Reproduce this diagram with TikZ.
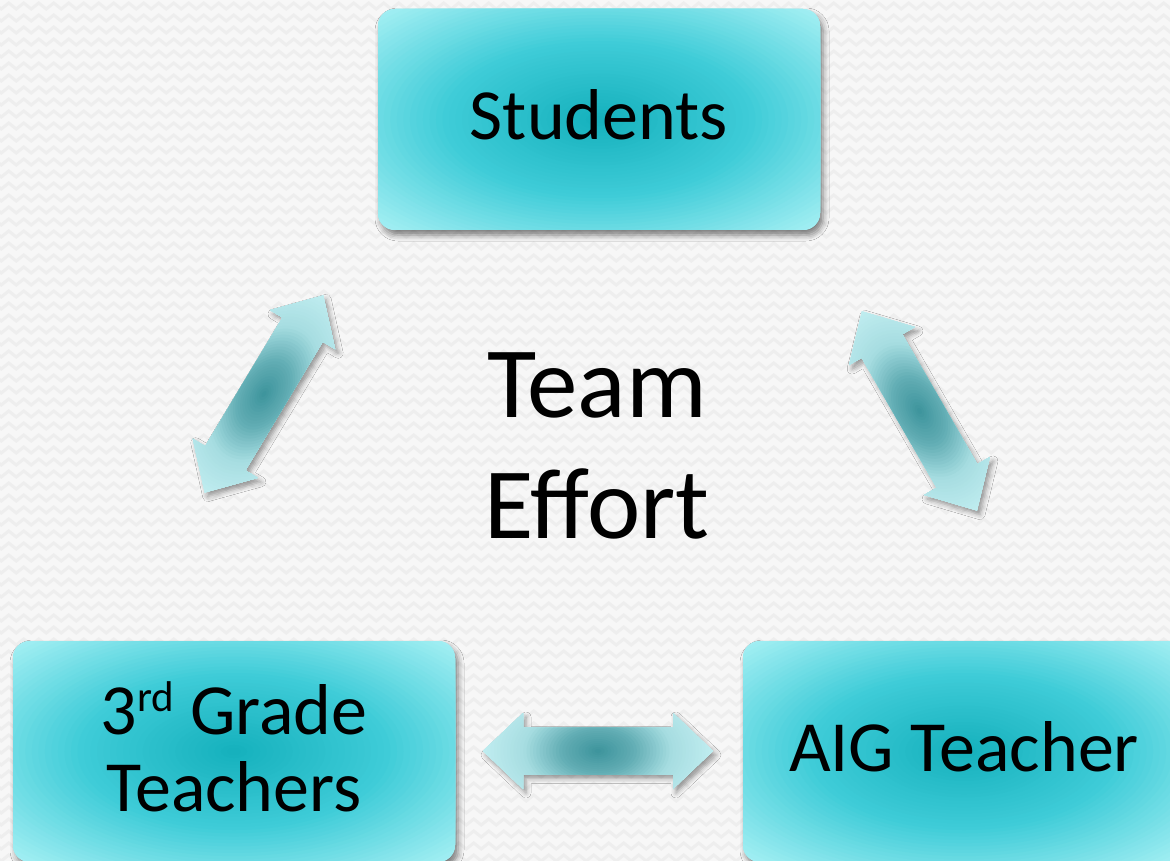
\documentclass[tikz,border=0pt]{standalone}
\usepackage{fontspec}
\setmainfont{Carlito}
\usetikzlibrary{shadows.blur,decorations.pathmorphing}
\definecolor{bg}{HTML}{F7F7F7}
\definecolor{bgzig}{HTML}{EEEEEE}
\definecolor{boxA}{HTML}{14B0BC}
\definecolor{boxM}{HTML}{3FCCD8}
\definecolor{boxE}{HTML}{A6F0F4}
\definecolor{boxRim}{HTML}{7FE2E9}
\definecolor{arA}{HTML}{3B939B}
\definecolor{arB}{HTML}{62ADB4}
\definecolor{arC}{HTML}{A6DDE1}
\definecolor{arD}{HTML}{C8F2F5}
\tikzset{
  boxgrad/.style={path picture={
    \foreach \k in {48,47,...,1}{
      \pgfmathsetmacro\f{\k/48}
      \ifdim\f pt<0.5pt
        \pgfmathsetmacro\p{100*(1-\f/0.5)}\colorlet{gc}{boxA!\p!boxM}
      \else
        \pgfmathsetmacro\p{100*(1-(\f-0.5)/0.5)}\colorlet{gc}{boxM!\p!boxE}
      \fi
      \fill[gc] (path picture bounding box.center) ellipse [x radius=313*\f, y radius=157*\f];
    }}},
  teambox/.style={shape=rectangle, rounded corners=17pt, minimum width=442pt,
    minimum height=221pt, fill=boxRim, boxgrad,
    blur shadow={shadow xshift=3pt, shadow yshift=-5pt, shadow blur radius=6pt, shadow opacity=50},
    font=\fontsize{72}{77}\selectfont, align=center, text depth=9.5pt, inner sep=0pt},
  centertext/.style={font=\fontsize{101}{121}\selectfont, align=center},
  zigline/.style={draw=bgzig, line width=3pt, decorate,
    decoration={zigzag, segment length=15pt, amplitude=3pt}},
}
\newcommand\dblarrow[4]{%
  \begin{scope}[transform canvas={shift={(#1)}, rotate=#2}]
    \fill[arD, blur shadow={shadow xshift=#3, shadow yshift=#4, shadow blur radius=5pt, shadow opacity=40}]
      (-115,0) -- (-75,38) -- (-75,23.5) -- (75,23.5) -- (75,38) -- (115,0)
      -- (75,-38) -- (75,-23.5) -- (-75,-23.5) -- (-75,-38) -- cycle;
    \begin{scope}
      \clip (-115,0) -- (-75,38) -- (-75,23.5) -- (75,23.5) -- (75,38) -- (115,0)
      -- (75,-38) -- (75,-23.5) -- (-75,-23.5) -- (-75,-38) -- cycle;
      \foreach \k in {40,39,...,1}{
        \pgfmathsetmacro\f{\k/40}
        \ifdim\f pt<0.29pt
          \pgfmathsetmacro\p{100*(1-\f/0.29)}\colorlet{gc}{arA!\p!arB}
        \else\ifdim\f pt<0.58pt
          \pgfmathsetmacro\p{100*(1-(\f-0.29)/0.29)}\colorlet{gc}{arB!\p!arC}
        \else
          \pgfmathsetmacro\p{100*(1-(\f-0.58)/0.42)}\colorlet{gc}{arC!\p!arD}
        \fi\fi
        \fill[gc] (0,0) ellipse [x radius=130*\f, y radius=80*\f];
      }
    \end{scope}
  \end{scope}}
\begin{document}
\begin{tikzpicture}[x=1pt,y=-1pt]
\useasboundingbox[fill=bg] (0,0) rectangle (1170,861);
\begin{scope}
  \clip (0,0) rectangle (1170,861);
  \foreach \r in {0,...,72}{
    \draw[zigline] (-10,{6+12*\r}) -- (1185,{6+12*\r});
  }
\end{scope}
\node[teambox] (students) at (599,119.5) {Students};
\node[teambox] (grade) at (234,751.5) {3\raisebox{23pt}{\fontsize{43}{43}\selectfont rd} Grade\\Teachers};
\node[teambox] (aig) at (964,751.5) {AIG Teacher};
\node[centertext] (team) at (597,445.5) {Team\\Effort};
\coordinate (arrL) at (264,394);
\coordinate (arrR) at (919.5,411);
\coordinate (arrB) at (598,751);
\dblarrow{arrL}{59}{-1.9pt}{-4.6pt}
\dblarrow{arrR}{120}{-5pt}{-0.6pt}
\dblarrow{arrB}{0}{3pt}{-4pt}
\end{tikzpicture}
\end{document}
